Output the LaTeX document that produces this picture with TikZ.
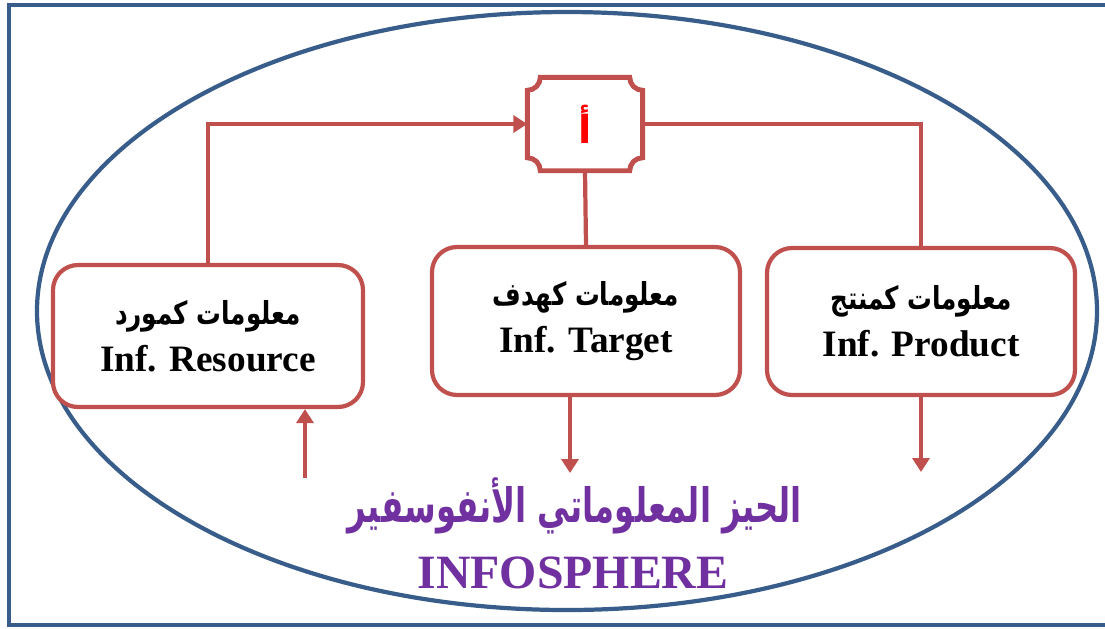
\documentclass[tikz,border=0pt]{standalone}
\usepackage{fontspec}
\usepackage{graphicx}
\setmainfont{Liberation Serif}
\newfontfamily\arabicfont[Script=Arabic]{DejaVu Sans}
\TeXXeTstate=1
\usetikzlibrary{arrows.meta}
\definecolor{boxred}{HTML}{C0504D}
\definecolor{frameblue}{HTML}{385D8A}
\definecolor{titlepurple}{HTML}{7030A0}
\newcommand{\arboxfont}{\arabicfont\fontsize{9}{13.4}\selectfont\bfseries}

\begin{document}
\begin{tikzpicture}
    \tikzstyle{box} = [rectangle, draw=boxred, line width=1.2pt, rounded corners=0.25cm, fill=white, align=center, minimum width=3.08cm, minimum height=1.46cm, font=\fontsize{10.6}{13.4}\selectfont\bfseries]
    \tikzstyle{link} = [draw=boxred, line width=1.2pt]
    \tikzstyle{tip} = [-{Triangle[width=0.17cm,length=0.14cm]}]
    \tikzstyle{frame} = [draw=frameblue, line width=1.2pt]

    \clip (0,0) rectangle (11.05,-6.28);
    \draw [frame] (0.09,-0.05) rectangle (11.12,-6.25);
    \draw [frame] (5.67,-3.11) ellipse [x radius=5.30, y radius=2.99];

    \node (res) at (2.08,-3.36) [box, minimum width=3.10cm, minimum height=1.42cm] {\scalebox{0.78}[1]{\arboxfont\beginR معلومات كمورد\endR} \\ Inf. Resource};
    \node (tgt) at (5.86,-3.21) [box, minimum height=1.48cm] {\scalebox{0.78}[1]{\arboxfont\beginR معلومات كهدف\endR} \\ Inf. Target};
    \node (prd) at (9.21,-3.215) [box, minimum height=1.47cm] {\scalebox{0.78}[1]{\arboxfont\beginR معلومات كمنتج\endR} \\ Inf. Product};

    \node (alef) at (5.85,-1.24) [minimum width=1.14cm, minimum height=0.92cm] {\textcolor{red}{\arabicfont\fontsize{11}{13}\selectfont\bfseries\beginR أ\endR}};
    \draw [link, line width=1.4pt] ([yshift=0.13cm]alef.south west) -- ([yshift=-0.13cm]alef.north west)
        arc [start angle=270, end angle=360, radius=0.13cm] -- ([xshift=-0.13cm]alef.north east)
        arc [start angle=180, end angle=270, radius=0.13cm] -- ([yshift=0.13cm]alef.south east)
        arc [start angle=90, end angle=180, radius=0.13cm] -- ([xshift=0.13cm]alef.south west)
        arc [start angle=0, end angle=90, radius=0.13cm] -- cycle;

    \node (title) at (5.75,-5.06) [text=titlepurple] {\scalebox{0.68}[1]{\arabicfont\fontsize{13.5}{15}\selectfont\bfseries\beginR الحيز المعلوماتي الأنفوسفير\endR}};
    \node (infosphere) at (5.73,-5.73) [text=titlepurple, font=\fontsize{13.6}{15}\selectfont\bfseries] {INFOSPHERE};

    \coordinate (t1) at (5.70,-4.73);
    \coordinate (p1) at (9.21,-4.72);
    \coordinate (r1) at (3.05,-4.78);

    \draw [link, tip] (res.north) |- (alef.west);
    \draw [link] (alef.east) -| (prd.north);
    \draw [link] (alef.south) -- (tgt.north);
    \draw [link, tip] (tgt.south -| t1) -- (t1);
    \draw [link, tip] (prd.south) -- (p1);
    \draw [link, tip] (r1) -- (res.south -| r1);
\end{tikzpicture}
\end{document}
